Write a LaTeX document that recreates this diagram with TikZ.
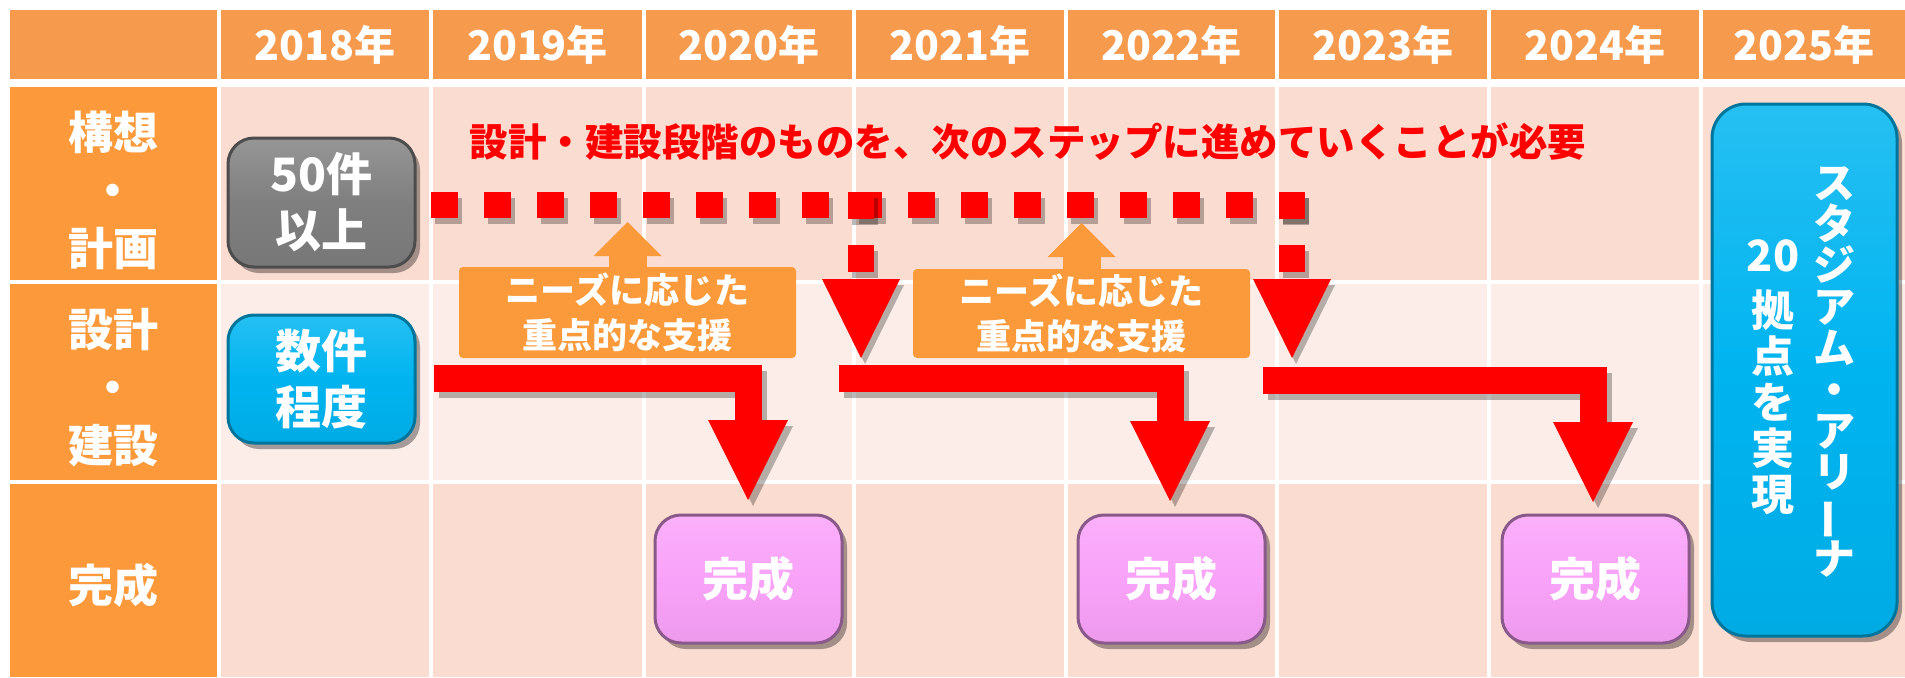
\documentclass[tikz,border=0pt]{standalone}
\usepackage{fontspec}
\usetikzlibrary{arrows.meta,shadows}
\newfontfamily\jp{Noto Sans CJK JP}
\definecolor{hdrorange}{HTML}{F69A4E}
\definecolor{sideorange}{HTML}{FC9A3B}
\definecolor{peach}{HTML}{FBDCD0}
\definecolor{pale}{HTML}{FCEDE8}
\definecolor{boxorange}{HTML}{FA9A3A}
\definecolor{gbox}{HTML}{7F7F7F}
\definecolor{bbox}{HTML}{00B4F0}
\definecolor{pbox}{HTML}{F9A2F9}
\definecolor{redc}{HTML}{FF0000}
\begin{document}
\begin{tikzpicture}[x=1pt,y=-1pt,
  yearlbl/.style={text=white,font=\jp\bfseries\fontsize{41}{48}\selectfont},
  sidelbl/.style={text=white,align=center,font=\jp\bfseries\fontsize{45}{58}\selectfont},
  bevel/.style={rounded corners=26pt,line width=3pt,inner sep=0pt,
    text=white,align=center,font=\jp\bfseries\fontsize{46}{56}\selectfont,
    drop shadow={shadow xshift=5pt,shadow yshift=-6pt,opacity=0.35,fill=black}},
  graybox/.style={bevel,draw=gbox!60!black,top color=gbox!82!white,bottom color=gbox!94!black,middle color=gbox},
  bluebox/.style={bevel,draw=bbox!65!black,top color=bbox!85!white,bottom color=bbox!95!black,middle color=bbox},
  pinkbox/.style={bevel,draw=pbox!55!black,top color=pbox!85!white,bottom color=pbox!95!black,middle color=pbox},
  needbox/.style={fill=boxorange,rounded corners=4pt,inner sep=0pt,minimum width=337pt,
    text=white,align=center,font=\jp\bfseries\fontsize{35}{45}\selectfont},
  vtext/.style={text=white,align=center,font=\jp\bfseries\fontsize{42}{41.4}\selectfont},
  reddot/.style={preaction={draw=black,opacity=0.28,line width=26pt,dash pattern=on 26.5pt off 26.5pt,
      transform canvas={shift={(4pt,-6pt)}}},
    draw=redc,line width=26pt,dash pattern=on 26.5pt off 26.5pt},
  redarrow/.style={preaction={draw=black,opacity=0.28,line width=27pt,line join=miter,
      transform canvas={shift={(5pt,-6pt)}}},
    draw=redc,line width=27pt,line join=miter},
  redtip/.style={-{Triangle[width=80pt,length=80pt,line width=0pt]}},
  dottip/.style={-{Triangle[width=78pt,length=79pt,line width=0pt]}},
  uparrow/.style={draw=boxorange,line width=38pt,-{Triangle[width=68pt,length=34pt,line width=0pt]}},
]
\useasboundingbox (0,0) rectangle (1905,677);
\fill[white] (0,0) rectangle (1905,677);
% grid
\fill[hdrorange] (10,10) rectangle (217,79);
\fill[sideorange] (10,87) rectangle (217,280);
\fill[sideorange] (10,284) rectangle (217,480);
\fill[sideorange] (10,484) rectangle (217,677);
\foreach \l/\r in {221/429,433/642,646/852,856/1064,1068/1275,1279/1487,1491/1699,1703/1905}{
  \fill[hdrorange] (\l,10) rectangle (\r,79);
  \fill[peach] (\l,87) rectangle (\r,280);
  \fill[pale] (\l,284) rectangle (\r,480);
  \fill[peach] (\l,484) rectangle (\r,677);
}
% header labels
\foreach \x/\yr in {325/2018,537.5/2019,749/2020,960/2021,1171.5/2022,1383/2023,1595/2024,1804/2025}{
  \node[yearlbl] (y\yr) at (\x,45) {\yr 年};
}
% side labels
\node[sidelbl] (s1) at (113,190) {構想\\・\\計画};
\node[sidelbl] (s2) at (113,388) {設計\\・\\建設};
\node[sidelbl] (s3) at (113,585) {完成};
% boxes
\node[graybox,minimum width=187pt,minimum height=129pt] (g) at (321.5,202.5) {50件\\以上};
\node[bluebox,minimum width=187pt,minimum height=128pt] (b) at (321.5,379) {数件\\程度};
\node[pinkbox,minimum width=187pt,minimum height=128pt] (c1) at (748.5,579) {完成};
\node[pinkbox,minimum width=187pt,minimum height=128pt] (c2) at (1171.5,579) {完成};
\node[pinkbox,minimum width=187pt,minimum height=128pt] (c3) at (1595.5,579) {完成};
\node[bluebox,rounded corners=34pt,minimum width=185pt,minimum height=532pt] (st) at (1804.5,370) {};
\node[vtext] (st1) at (1834,372) {ス\\タ\\ジ\\ア\\ム\\・\\ア\\リ\\ \rotatebox[origin=c]{90}{ー}\\ナ};
\node[vtext,font=\jp\bfseries\fontsize{43}{46}\selectfont] (st2) at (1773,377) {20\\[9pt]拠\\点\\を\\実\\現};
% message
\node[text=redc,font=\jp\bfseries\fontsize{38.5}{40}\selectfont] (msg) at (1028,142)
  {設計・建設段階のものを、次のステップに進めていくことが必要};
% dotted connector
\coordinate (dS) at (431,205);
\coordinate (dE) at (1305,205);
\coordinate (v1s) at (861,192);
\coordinate (v1e) at (861,358);
\coordinate (v2s) at (1292,192);
\coordinate (v2e) at (1292,358);
\draw[reddot] (dS) -- (dE);
\draw[reddot,dottip] (v1s) -- (v1e);
\draw[reddot,dottip] (v2s) -- (v2e);
% need boxes
\node[needbox,minimum height=91pt] (n1) at (627.5,312.5) {ニーズに応じた\\重点的な支援};
\node[needbox,minimum height=89pt] (n2) at (1081.5,313.5) {ニーズに応じた\\重点的な支援};
\coordinate (u1) at (627.5,222);
\coordinate (u2) at (1081.5,223);
\draw[uparrow] (n1.north) -- (u1);
\draw[uparrow] (n2.north) -- (u2);
% solid red arrows
\coordinate (r1s) at (434,378.5);
\coordinate (r1k) at (748,378.5);
\coordinate (r1e) at (748,500);
\coordinate (r2s) at (839,378.5);
\coordinate (r2k) at (1170,378.5);
\coordinate (r2e) at (1170,501);
\coordinate (r3s) at (1263,380);
\coordinate (r3k) at (1593,380);
\coordinate (r3e) at (1593,502);
\draw[redarrow,redtip] (r1s) -- (r1k) -- (r1e);
\draw[redarrow,redtip] (r2s) -- (r2k) -- (r2e);
\draw[redarrow,redtip] (r3s) -- (r3k) -- (r3e);
\end{tikzpicture}
\end{document}
